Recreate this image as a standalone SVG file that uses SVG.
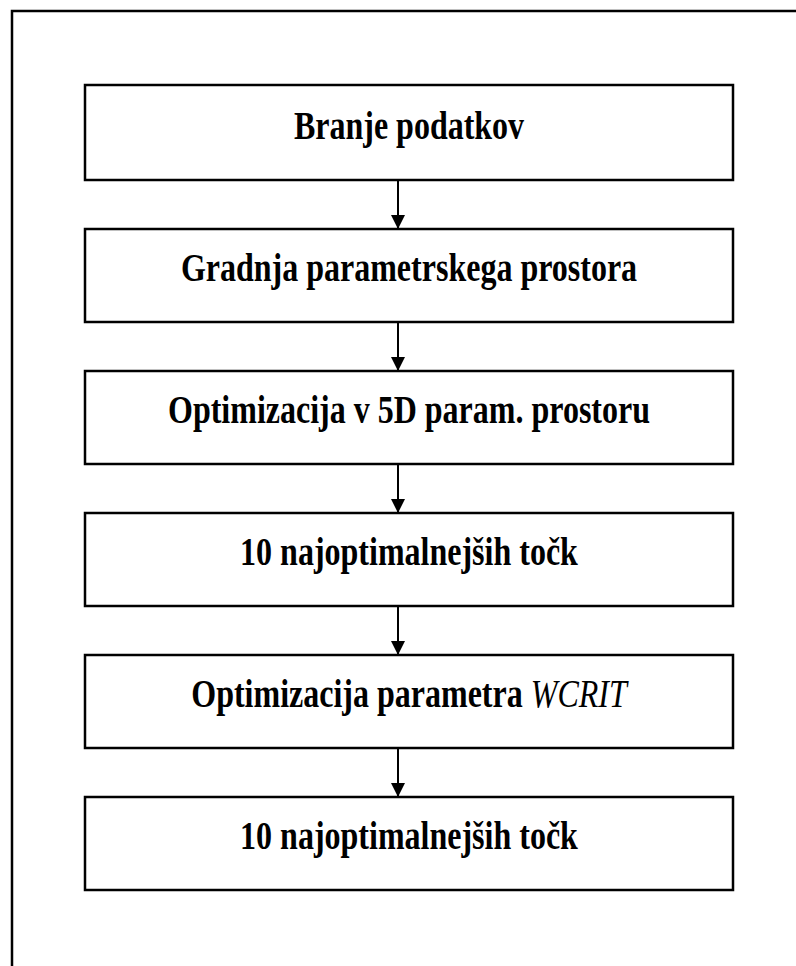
<svg xmlns="http://www.w3.org/2000/svg" width="796" height="966" viewBox="0 0 796 966">
<defs>
<style>
.box{fill:#fff;stroke:#000;stroke-width:2.5}
.t{font-family:"Liberation Serif","Times New Roman",serif;font-weight:bold;font-size:40px;text-anchor:middle;fill:#000}
.conn{stroke:#000;stroke-width:2;fill:none}
</style>
<marker id="ah" viewBox="0 0 14 17" refX="14" refY="7" markerWidth="14" markerHeight="17" markerUnits="userSpaceOnUse" orient="auto">
<path d="M0,0 L14,7 L0,14 Z" fill="#000"/>
</marker>
</defs>
<rect width="796" height="966" fill="#fff"/>
<path d="M12,966 V11 H796" fill="none" stroke="#000" stroke-width="2.5"/>
<g id="connectors">
<line class="conn" x1="398" y1="180" x2="398" y2="229" marker-end="url(#ah)"/>
<line class="conn" x1="398" y1="322" x2="398" y2="371" marker-end="url(#ah)"/>
<line class="conn" x1="398" y1="464" x2="398" y2="513" marker-end="url(#ah)"/>
<line class="conn" x1="398" y1="606" x2="398" y2="655" marker-end="url(#ah)"/>
<line class="conn" x1="398" y1="748" x2="398" y2="797" marker-end="url(#ah)"/>
</g>
<g id="n1"><rect class="box" x="85" y="85" width="648" height="95"/><text class="t" transform="translate(409,139) scale(0.8,1)">Branje podatkov</text></g>
<g id="n2"><rect class="box" x="85" y="229" width="648" height="93"/><text class="t" transform="translate(409,281) scale(0.8,1)">Gradnja parametrskega prostora</text></g>
<g id="n3"><rect class="box" x="85" y="371" width="648" height="93"/><text class="t" transform="translate(409,423) scale(0.8,1)">Optimizacija v 5D param. prostoru</text></g>
<g id="n4"><rect class="box" x="85" y="513" width="648" height="93"/><text class="t" transform="translate(409,565) scale(0.8,1)">10 najoptimalnejših točk</text></g>
<g id="n5"><rect class="box" x="85" y="655" width="648" height="93"/><text class="t" transform="translate(409,707) scale(0.8,1)">Optimizacija parametra <tspan font-style="italic" font-weight="normal">WCRIT</tspan></text></g>
<g id="n6"><rect class="box" x="85" y="797" width="648" height="93"/><text class="t" transform="translate(409,849) scale(0.8,1)">10 najoptimalnejših točk</text></g>
</svg>
